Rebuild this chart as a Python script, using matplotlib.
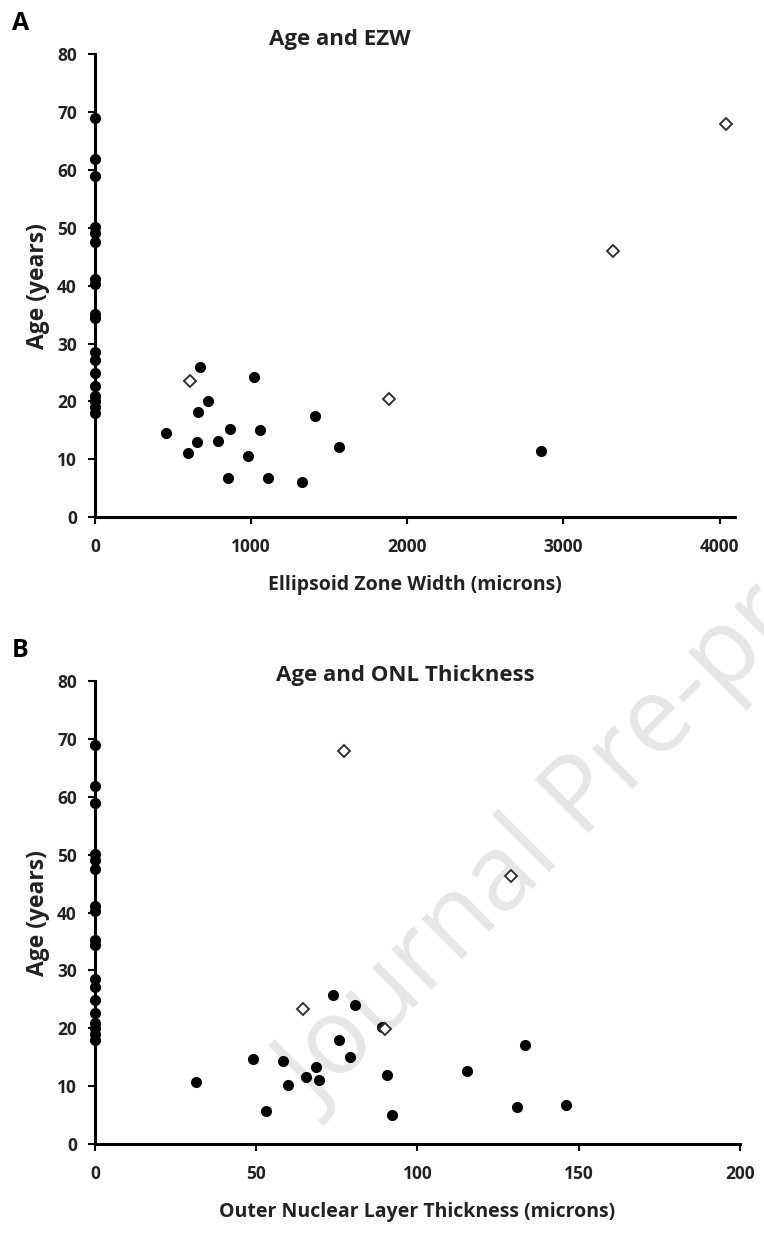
import matplotlib
matplotlib.use('Agg')
import matplotlib.pyplot as plt

plt.rcParams['font.family'] = ['Open Sans', 'DejaVu Sans']

# ages of subjects sitting on the y axis (width / thickness = 0)
zero_age = [69.0, 61.9, 59.0, 50.2, 49.1, 47.6, 41.2, 40.3, 35.2, 34.4,
            28.6, 27.2, 24.9, 22.6, 20.9, 20.0, 19.1, 18.0]

# panel A - ellipsoid zone width
ezw_x = [455, 673, 726, 660, 652, 598, 788, 865, 853, 979, 1021, 1060,
         1111, 1329, 1406, 1560, 2857]
ezw_age = [14.6, 25.9, 20.1, 18.1, 12.9, 11.1, 13.2, 15.3, 6.7, 10.5, 24.2,
           15.0, 6.7, 6.0, 17.4, 12.2, 11.5]
ezw_open_x = [609, 1880, 3318, 4038]
ezw_open_age = [23.6, 20.5, 46.0, 68.0]

# panel B - outer nuclear layer thickness
onl_x = [31.4, 48.9, 58.2, 60.0, 65.5, 68.6, 69.5, 73.7, 75.6, 79.2, 80.5,
         89.1, 90.5, 115.3, 133.3, 53.0, 92.0, 131.0, 146.0]
onl_age = [10.8, 14.7, 14.4, 10.2, 11.6, 13.3, 11.1, 25.8, 17.9, 15.1, 24.0,
           20.2, 11.9, 12.6, 17.1, 5.7, 5.0, 6.4, 6.7]
onl_open_x = [64.4, 90.0, 77.3, 128.9]
onl_open_age = [23.4, 19.8, 68.0, 46.4]

fig = plt.figure(figsize=(7.64, 12.37), dpi=100)

# watermark, behind the axes
fig.text(318 / 764, 1 - 1112 / 1237, 'Journal Pre-proof', rotation=45,
         rotation_mode='anchor', fontsize=76, color='#e6e6e6',
         ha='left', va='baseline', zorder=-1)

axA = fig.add_axes([0.1243, 0.582, 0.838, 0.374])
axB = fig.add_axes([0.1243, 0.0752, 0.844, 0.374])


def style(ax, xmax, xticks):
    ax.patch.set_alpha(0)
    ax.set_ylim(0, 80)
    ax.set_xlim(0, xmax)
    ax.set_yticks(range(0, 81, 10))
    ax.set_xticks(xticks)
    for s in ['top', 'right']:
        ax.spines[s].set_visible(False)
    for s in ['left', 'bottom']:
        ax.spines[s].set_linewidth(2.2)
    ax.tick_params(direction='out', length=5, width=1.5, labelsize=12.5)
    ax.tick_params(axis='x', pad=10)
    ax.tick_params(axis='y', pad=8)
    for lab in ax.get_xticklabels() + ax.get_yticklabels():
        lab.set_fontweight('bold')
        lab.set_color('#222222')


for ax, xs, ys, ox, oy in [(axA, ezw_x, ezw_age, ezw_open_x, ezw_open_age),
                           (axB, onl_x, onl_age, onl_open_x, onl_open_age)]:
    ax.plot([0] * len(zero_age), zero_age, 'o', color='black', ms=7,
            clip_on=False, zorder=5)
    ax.plot(xs, ys, 'o', color='black', ms=7, clip_on=False, zorder=5)
    ax.plot(ox, oy, 'D', mfc='white', mec='#333333', mew=1.4, ms=6,
            clip_on=False, zorder=6)

style(axA, 4100, [0, 1000, 2000, 3000, 4000])
style(axB, 200, [0, 50, 100, 150, 200])

for ax in [axA, axB]:
    ax.set_ylabel('Age (years)', fontsize=16.5, fontweight='bold',
                  labelpad=5, color='#222222')
axA.set_xlabel('Ellipsoid Zone Width (microns)', fontsize=14,
               fontweight='bold', labelpad=14, color='#222222')
axB.set_xlabel('Outer Nuclear Layer Thickness (microns)', fontsize=14,
               fontweight='bold', labelpad=14, color='#222222')

fig.text(340 / 764, 1 - 40 / 1237, 'Age and EZW', fontsize=16,
         fontweight='bold', ha='center', va='center', color='#222222')
fig.text(405 / 764, 1 - 676 / 1237, 'Age and ONL Thickness', fontsize=16,
         fontweight='bold', ha='center', va='center', color='#222222')
fig.text(12 / 764, 1 - 23 / 1237, 'A', fontsize=18, fontweight='bold',
         va='center')
fig.text(12 / 764, 1 - 650 / 1237, 'B', fontsize=18, fontweight='bold',
         va='center')

fig.savefig('out.png', dpi=100)
